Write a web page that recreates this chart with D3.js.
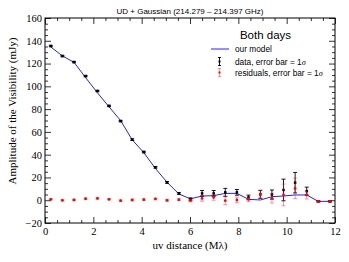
<!DOCTYPE html>
<html><head><meta charset="utf-8">
<script src="https://cdn.jsdelivr.net/npm/d3@7"></script>
<style>
body{margin:0;background:#fff;}
svg{display:block;}
</style></head>
<body>
<svg id="c" width="349" height="262"></svg>
<script>
const uv = [0.24,0.72,1.20,1.68,2.17,2.65,3.13,3.61,4.09,4.57,5.05,5.54,6.02,6.50,6.98,7.46,7.94,8.42,8.91,9.39,9.87,10.35,10.83,11.31,11.79];
const dataAmp = [135.4,126.6,121.3,109.0,95.9,82.8,69.5,53.2,42.3,28.9,15.7,6.0,1.0,6.0,6.0,6.9,6.9,2.5,5.2,5.0,9.0,15.4,8.0,-1.0,-1.0];
const dataErr = [0.6,0.6,0.6,0.6,0.6,0.6,0.6,0.7,0.7,0.7,0.8,0.8,1.0,2.5,2.5,3.5,2.5,2.0,3.5,4.0,9.5,9.0,3.5,0.5,0.5];
const model = [134.6,126.7,121.1,107.7,94.3,82.0,69.9,53.0,41.8,27.8,15.8,5.5,1.2,3.7,4.0,6.0,6.0,0.8,0.2,3.1,3.7,4.6,4.6,-1.0,-1.0];
const resid = [0.8,-0.1,0.2,1.3,1.6,0.8,-0.4,0.2,0.5,1.1,-0.1,0.5,-0.4,1.6,2.5,-0.4,0.2,0.8,5.1,1.6,4.6,10.4,4.6,-1.0,-1.0];
const residErr = [0.6,0.6,0.6,0.6,0.6,0.6,0.6,0.7,0.7,0.7,0.8,0.8,1.0,2.5,2.5,3.5,2.5,2.0,3.5,4.0,9.5,9.0,3.5,0.5,0.5];
const xMajor = [0,2,4,6,8,10,12];
const yMajor = [-20,0,20,40,60,80,100,120,140,160];
const titleText = "UD + Gaussian (214.279 \u2013 214.397 GHz)";
const legendTitle = "Both days";
const legendLabels = ["our model","data, error bar = 1","residuals, error bar = 1"];

const svg = d3.select("#c");
const x = d3.scaleLinear().domain([0,12]).range([45,335]);
const y = d3.scaleLinear().domain([-20,160]).range([223,18]);
const serif = "'Liberation Serif', 'DejaVu Serif', serif";
const sans = "'Liberation Sans', Arial, sans-serif";

const xMinor = d3.range(0,12.01,0.5).filter(v=>!xMajor.includes(v));
const yMinor = d3.range(-20,160.01,5).filter(v=>!yMajor.includes(v));

function styleAxis(g){
  g.select(".domain").remove();
  g.selectAll("line").attr("stroke","#000").attr("stroke-width",0.8);
  g.selectAll("text").attr("font-family",serif).attr("font-size","10.5px").attr("fill","#000");
}
svg.append("g").attr("transform",`translate(0,${y(-20)})`)
  .call(d3.axisBottom(x).tickValues(xMajor).tickSize(-6).tickPadding(5).tickFormat(d3.format("d"))).call(styleAxis);
svg.append("g").attr("transform",`translate(0,${y(-20)})`)
  .call(d3.axisBottom(x).tickValues(xMinor).tickSize(-3).tickFormat("")).call(styleAxis);
svg.append("g").attr("transform",`translate(0,${y(160)})`)
  .call(d3.axisTop(x).tickValues(xMajor).tickSize(-6).tickFormat("")).call(styleAxis);
svg.append("g").attr("transform",`translate(0,${y(160)})`)
  .call(d3.axisTop(x).tickValues(xMinor).tickSize(-3).tickFormat("")).call(styleAxis);
svg.append("g").attr("transform",`translate(${x(0)},0)`)
  .call(d3.axisLeft(y).tickValues(yMajor).tickSize(-6).tickPadding(3).tickFormat(d3.format("d"))).call(styleAxis);
svg.append("g").attr("transform",`translate(${x(0)},0)`)
  .call(d3.axisLeft(y).tickValues(yMinor).tickSize(-3).tickFormat("")).call(styleAxis);
svg.append("g").attr("transform",`translate(${x(12)},0)`)
  .call(d3.axisRight(y).tickValues(yMajor).tickSize(-6).tickFormat("")).call(styleAxis);
svg.append("g").attr("transform",`translate(${x(12)},0)`)
  .call(d3.axisRight(y).tickValues(yMinor).tickSize(-3).tickFormat("")).call(styleAxis);

svg.append("rect").attr("x",x(0)).attr("y",y(160)).attr("width",x(12)-x(0)).attr("height",y(-20)-y(160))
  .attr("fill","none").attr("stroke","#000").attr("stroke-width",1);

const line = d3.line().x((d,i)=>x(uv[i])).y(d=>y(d));
svg.append("path").datum(model).attr("d",line).attr("fill","none").attr("stroke","#2222ff").attr("stroke-width",1);

function errorbars(vals, errs, color, opacity){
  const g = svg.append("g").attr("stroke",color).attr("stroke-opacity",opacity).attr("stroke-width",0.9);
  vals.forEach((v,i)=>{
    const cx = x(uv[i]), y1 = y(v-errs[i]), y2 = y(v+errs[i]);
    g.append("line").attr("x1",cx).attr("x2",cx).attr("y1",y1).attr("y2",y2);
    g.append("line").attr("x1",cx-2).attr("x2",cx+2).attr("y1",y1).attr("y2",y1);
    g.append("line").attr("x1",cx-2).attr("x2",cx+2).attr("y1",y2).attr("y2",y2);
  });
}
errorbars(dataAmp,dataErr,"#000",1);
svg.append("g").selectAll("rect").data(dataAmp).join("rect")
  .attr("x",(d,i)=>x(uv[i])-1.25).attr("y",d=>y(d)-1.25).attr("width",2.5).attr("height",2.5).attr("fill","#000");
errorbars(resid,residErr,"#ff0000",0.45);
svg.append("g").selectAll("circle").data(resid).join("circle")
  .attr("cx",(d,i)=>x(uv[i])).attr("cy",d=>y(d)).attr("r",1.4).attr("fill","#ff0000");

svg.append("text").attr("x",(x(0)+x(12))/2).attr("y",14).attr("text-anchor","middle")
  .attr("font-family",sans).attr("font-size","8px").text(titleText);
svg.append("text").attr("x",190).attr("y",249).attr("text-anchor","middle")
  .attr("font-family",serif).attr("font-size","11px").text("uv distance (M\u03bb)");
svg.append("text").attr("transform","translate(16,111) rotate(-90)").attr("text-anchor","middle")
  .attr("font-family",serif).attr("font-size","11px").text("Amplitude of the Visibility (mJy)");

const lg = svg.append("g");
lg.append("text").attr("x",265.5).attr("y",38.5).attr("text-anchor","middle")
  .attr("font-family",sans).attr("font-size","11.5px").text(legendTitle);
const rowY = [49,61.5,72.5];
lg.append("line").attr("x1",211).attr("x2",229).attr("y1",rowY[0]).attr("y2",rowY[0]).attr("stroke","#2222ff").attr("stroke-width",1);
[["#000",1],["#ff0000",0.45]].forEach(([c,o],k)=>{
  const yy = rowY[k+1];
  const g = lg.append("g").attr("stroke",c).attr("stroke-opacity",o).attr("stroke-width",0.9);
  g.append("line").attr("x1",219.5).attr("x2",219.5).attr("y1",yy-4).attr("y2",yy+4);
  g.append("line").attr("x1",218).attr("x2",221).attr("y1",yy-4).attr("y2",yy-4);
  g.append("line").attr("x1",218).attr("x2",221).attr("y1",yy+4).attr("y2",yy+4);
  lg.append("rect").attr("x",218.5).attr("y",yy-1).attr("width",2).attr("height",2).attr("fill",c);
});
legendLabels.forEach((t,i)=>{
  const tx = lg.append("text").attr("x",235).attr("y",rowY[i]+3).attr("font-family",sans).attr("font-size","8.3px").text(t);
  if(i>0) tx.append("tspan").attr("font-family",serif).attr("font-style","italic").text("\u03c3");
});
</script>
</body></html>
